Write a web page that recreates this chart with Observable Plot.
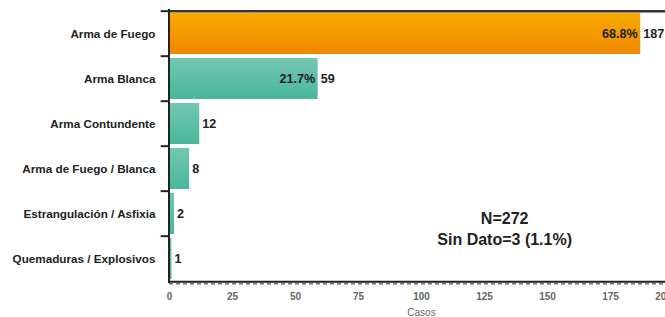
<!DOCTYPE html>
<html>
<head>
<meta charset="utf-8">
<script src="https://cdn.jsdelivr.net/npm/d3@7"></script>
<script src="https://cdn.jsdelivr.net/npm/@observablehq/plot@0.6"></script>
<style>
  html, body { margin: 0; padding: 0; background: #fff; overflow: hidden; }
  #chart { width: 665px; height: 317px; overflow: hidden; }
  #chart svg { max-width: none !important; }
</style>
</head>
<body>
<div id="chart"></div>
<script>
const categories = ["Arma de Fuego", "Arma Blanca", "Arma Contundente", "Arma de Fuego / Blanca", "Estrangulación / Asfixia", "Quemaduras / Explosivos"];
const values = [187, 59, 12, 8, 2, 1];
const percents = ["68.8%", "21.7%", null, null, null, null];
const xTicks = [0, 25, 50, 75, 100, 125, 150, 175, 200];
const noteLines = ["N=272", "Sin Dato=3 (1.1%)"];
const xLabel = "Casos";

const data = categories.map((c, i) => ({cat: c, value: values[i], pct: percents[i], top: i === 0}));

const H = 317, mTop = 9, mBottom = 34;
const step = (H - mTop - mBottom) / categories.length;
const font = "'Liberation Sans', Arial, Helvetica, sans-serif";
const lastTick = xTicks[xTicks.length - 1];

const chart = Plot.plot({
  width: 673,
  height: H,
  marginLeft: 169,
  marginRight: 0,
  marginTop: mTop,
  marginBottom: mBottom,
  style: {fontFamily: font, background: "#fff", overflow: "visible", maxWidth: "none"},
  x: {domain: [0, lastTick], ticks: xTicks, axis: null},
  y: {domain: categories, paddingInner: 0.1, paddingOuter: 0.05, axis: null},
  color: {type: "identity"},
  marks: [
    Plot.barX(data, {x: "value", y: "cat", fill: d => d.top ? "url(#gOrange)" : "url(#gTeal)"}),
    // left tick marks at band boundaries
    Plot.ruleY(categories, {y: d => d, x1: -3.3, x2: 0, dy: -step / 2, stroke: "#222", strokeWidth: 2}),
    // top line
    Plot.ruleY([categories[0]], {y: d => d, dy: -step / 2, stroke: "#333", strokeWidth: 2.5}),
    // bottom axis line
    Plot.ruleY([categories[categories.length - 1]], {y: d => d, dy: step / 2, stroke: "#222", strokeWidth: 2}),
    Plot.ruleY([categories[categories.length - 1]], {y: d => d, dy: step / 2 + 2, stroke: "#777", strokeWidth: 1.5, strokeDasharray: "4,3"}),
    // left axis line
    Plot.ruleX([0], {stroke: "#222", strokeWidth: 2, dx: -0.5}),
    Plot.axisY({tickSize: 0, tickPadding: 14, fontSize: 11.7, fontWeight: "bold", fill: "#222", label: null}),
    Plot.axisX({ticks: xTicks.slice(0, -1), tickSize: 0, tickPadding: 9, fontSize: 10, fontWeight: "bold", fill: "#666", label: null}),
    Plot.axisX({ticks: [lastTick], tickSize: 0, tickPadding: 9, fontSize: 10, fontWeight: "bold", fill: "#666", label: null, dx: -10}),
    Plot.text([xLabel], {x: 100, frameAnchor: "bottom", dy: 32, text: d => d, fontSize: 10, fill: "#666"}),
    // value labels
    Plot.text(data, {x: "value", y: "cat", text: d => String(d.value), textAnchor: "start", dx: 2.5, fontSize: 12.6, fontWeight: "bold", fill: "#222"}),
    Plot.text(data.filter(d => d.pct), {x: "value", y: "cat", text: "pct", textAnchor: "end", dx: -3, fontSize: 12.6, fontWeight: "bold", fill: "#222"}),
    // note
    Plot.text([noteLines.join("\n")], {x: 133, y: [categories[4]], text: d => d, dy: 14, lineHeight: 1.31, fontSize: 16, fontWeight: "bold", fill: "#222"})
  ]
});

const svg = d3.select(chart);
const defs = svg.insert("defs", ":first-child");
const go = defs.append("linearGradient").attr("id", "gOrange").attr("x1", 0).attr("y1", 0).attr("x2", 0).attr("y2", 1);
go.append("stop").attr("offset", "0%").attr("stop-color", "#f8ab00");
go.append("stop").attr("offset", "100%").attr("stop-color", "#f08800");
const gt = defs.append("linearGradient").attr("id", "gTeal").attr("x1", 0).attr("y1", 0).attr("x2", 0).attr("y2", 1);
gt.append("stop").attr("offset", "0%").attr("stop-color", "#74c6b3");
gt.append("stop").attr("offset", "100%").attr("stop-color", "#48b89a");

document.getElementById("chart").appendChild(chart);
</script>
</body>
</html>
